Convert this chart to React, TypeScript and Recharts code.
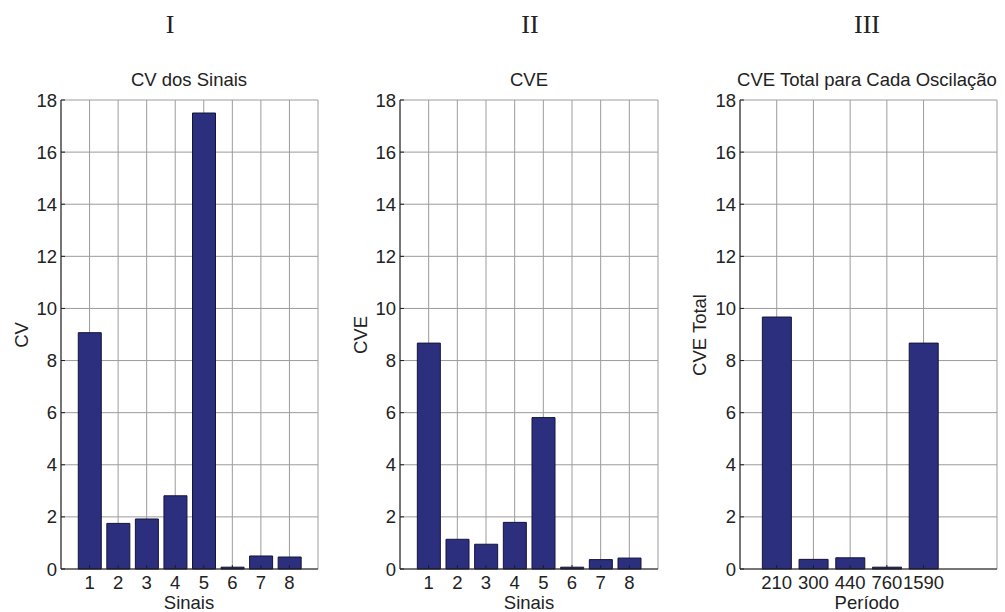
import React from "react";
import { BarChart, Bar, XAxis, YAxis, CartesianGrid } from "recharts";

const sinais = [1, 2, 3, 4, 5, 6, 7, 8];
const cvValues = [9.07, 1.75, 1.92, 2.81, 17.5, 0.07, 0.5, 0.46];
const cveValues = [8.67, 1.14, 0.95, 1.79, 5.81, 0.07, 0.36, 0.42];
const periodos = ["210", "300", "440", "760", "1590"];
const cveTotalValues = [9.67, 0.37, 0.43, 0.07, 8.67];
const yTicks = [0, 2, 4, 6, 8, 10, 12, 14, 16, 18];

const BAR_FILL = "#2b2f7e";
const BAR_STROKE = "#14143a";
const GRID = "#9c9c9c";
const AXIS = "#1e1e1e";
const FONT = "'Liberation Sans', Arial, sans-serif";
const tick = { fontSize: 18.5, fill: "#222", fontFamily: FONT };

interface PanelProps {
  left: number;
  width: number;
  plotLeft: number;
  plotRight: number;
  xMax: number;
  data: { x: number; v: number }[];
  xTicks: number[];
  barSize: number;
  xFmt?: (v: number) => string;
}

function Panel({ left, width, plotLeft, plotRight, xMax, data, xTicks, barSize, xFmt }: PanelProps) {
  const margin = { top: 100, bottom: 13, left: plotLeft - left - 40, right: left + width - plotRight };
  return (
    <div style={{ position: "absolute", left, top: 0 }}>
      <BarChart width={width} height={612} data={data} margin={margin}>
        <CartesianGrid stroke={GRID} />
        <XAxis dataKey="x" type="number" domain={[0, xMax]} ticks={xTicks} allowDataOverflow
          height={30} tick={tick} tickSize={-4} tickMargin={11} tickFormatter={xFmt}
          axisLine={{ stroke: AXIS }} tickLine={{ stroke: AXIS }} interval={0} />
        <XAxis xAxisId="top" orientation="top" type="number" domain={[0, xMax]} height={0}
          tick={false} tickLine={false} axisLine={{ stroke: AXIS }} />
        <YAxis type="number" domain={[0, 18]} ticks={yTicks} width={40} tick={tick}
          tickSize={-4} tickMargin={8} axisLine={{ stroke: AXIS }} tickLine={{ stroke: AXIS }} interval={0} />
        <YAxis yAxisId="right" orientation="right" type="number" domain={[0, 18]} width={0}
          tick={false} tickLine={false} axisLine={{ stroke: AXIS }} />
        <Bar dataKey="v" fill={BAR_FILL} stroke={BAR_STROKE} strokeWidth={1} barSize={barSize} isAnimationActive={false} />
      </BarChart>
    </div>
  );
}

export default function App() {
  const d1 = sinais.map((s, i) => ({ x: s, v: cvValues[i] }));
  const d2 = sinais.map((s, i) => ({ x: s, v: cveValues[i] }));
  const d3 = periodos.map((_, i) => ({ x: i + 1, v: cveTotalValues[i] }));
  const txt = { fontFamily: FONT, fontSize: 18.5, fill: "#222" };
  const roman = { fontFamily: "'Liberation Serif', 'Times New Roman', serif", fontSize: 26, fill: "#222" };
  return (
    <div style={{ position: "absolute", left: 0, top: 0, width: 1005, height: 612, background: "#fff", fontFamily: FONT }}>
      <Panel left={0} width={340} plotLeft={61} plotRight={318} xMax={9} data={d1} xTicks={sinais} barSize={23} />
      <Panel left={340} width={330} plotLeft={400} plotRight={658} xMax={9} data={d2} xTicks={sinais} barSize={23} />
      <Panel left={680} width={325} plotLeft={740} plotRight={997} xMax={7} data={d3} xTicks={[1, 2, 3, 4, 5]}
        barSize={29} xFmt={(v) => periodos[v - 1] ?? ""} />
      <svg width={1005} height={612} style={{ position: "absolute", left: 0, top: 0, pointerEvents: "none" }}>
        <text x={170} y={33} textAnchor="middle" {...roman}>I</text>
        <text x={530} y={33} textAnchor="middle" {...roman}>II</text>
        <text x={867} y={33} textAnchor="middle" {...roman}>III</text>
        <text x={189} y={86} textAnchor="middle" {...txt}>CV dos Sinais</text>
        <text x={529} y={86} textAnchor="middle" {...txt}>CVE</text>
        <text x={867} y={86} textAnchor="middle" {...txt}>CVE Total para Cada Oscilação</text>
        <text x={189} y={609} textAnchor="middle" {...txt}>Sinais</text>
        <text x={529} y={609} textAnchor="middle" {...txt}>Sinais</text>
        <text x={867} y={609} textAnchor="middle" {...txt}>Período</text>
        <text transform="translate(28,335) rotate(-90)" textAnchor="middle" {...txt}>CV</text>
        <text transform="translate(367,335) rotate(-90)" textAnchor="middle" {...txt}>CVE</text>
        <text transform="translate(706,335) rotate(-90)" textAnchor="middle" {...txt}>CVE Total</text>
      </svg>
    </div>
  );
}
